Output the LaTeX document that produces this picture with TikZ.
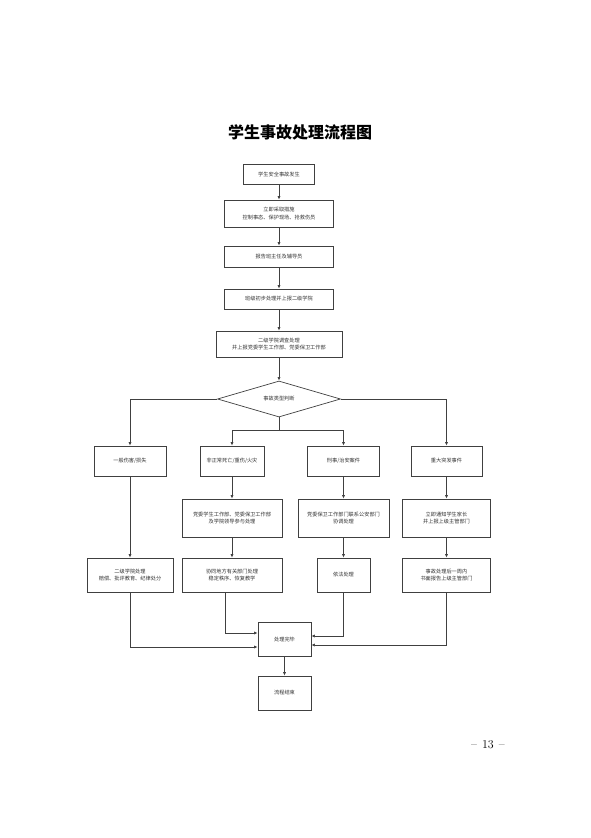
\documentclass[tikz,border=0pt]{standalone}
\usepackage{fontspec}
\newfontfamily\cjk{Noto Sans CJK SC}
\usetikzlibrary{shapes.geometric,arrows.meta}
\definecolor{linec}{HTML}{404040}
\definecolor{textc}{HTML}{333333}
\begin{document}
\begin{tikzpicture}[x=1pt,y=-1pt,
  box/.style={draw=linec, line width=0.7pt, fill=white, inner sep=1pt,
    font=\cjk\fontsize{5.2}{7.2}\selectfont, text=textc, align=center},
  arr/.style={draw=linec, line width=0.7pt, -{Latex[length=3.6pt,width=3.2pt]}},
  ln/.style={draw=linec, line width=0.7pt}]
\useasboundingbox (0,0) rectangle (590,838);
\fill[white] (0,0) rectangle (590,838);

\node[font=\cjk\bfseries\fontsize{16}{18}\selectfont, text=black] (title) at (300,132) {学生事故处理流程图};

\node[box, minimum width=71pt, minimum height=20pt] (b1) at (279,174) {学生安全事故发生};
\node[box, minimum width=109pt, minimum height=27pt] (b2) at (279,213.5) {立即采取措施\\控制事态、保护现场、抢救伤员};
\node[box, minimum width=109pt, minimum height=21pt] (b3) at (279,256.5) {报告班主任及辅导员};
\node[box, minimum width=109pt, minimum height=20pt] (b4) at (279,299) {班级初步处理并上报二级学院};
\node[box, minimum width=126pt, minimum height=26pt] (b5) at (279,344) {二级学院调查处理\\并上报党委学生工作部、党委保卫工作部};
\node[box, diamond, inner sep=0pt, minimum width=123pt, minimum height=30pt] (dia) at (279,399) {事故类型判断};

\node[box, minimum width=72pt, minimum height=30pt] (c1) at (130,461) {一般伤害/损失};
\node[box, minimum width=64pt, minimum height=30pt] (c2) at (232,461) {非正常死亡/重伤/火灾};
\node[box, minimum width=72pt, minimum height=30pt] (c3) at (343.5,461) {刑事/治安案件};
\node[box, minimum width=71pt, minimum height=30pt] (c4) at (446.5,461) {重大突发事件};

\node[box, minimum width=100pt, minimum height=38pt] (d2) at (232,518) {党委学生工作部、党委保卫工作部\\及学院领导参与处理};
\node[box, minimum width=91pt, minimum height=38pt] (d3) at (343.5,518) {党委保卫工作部门联系公安部门\\协调处理};
\node[box, minimum width=88pt, minimum height=38pt] (d4) at (446.5,518) {立即通知学生家长\\并上报上级主管部门};

\node[box, minimum width=86pt, minimum height=34pt] (e1) at (130,575) {二级学院处理\\赔偿、批评教育、纪律处分};
\node[box, minimum width=100pt, minimum height=34pt] (e2) at (232,575) {协同地方有关部门处理\\稳定秩序、恢复教学};
\node[box, minimum width=53pt, minimum height=34pt] (e3) at (343.5,575) {依法处理};
\node[box, minimum width=88pt, minimum height=34pt] (e4) at (446.5,575) {事故处理后一周内\\书面报告上级主管部门};

\node[box, minimum width=53pt, minimum height=34pt] (f1) at (284.5,639) {处理完毕};
\node[box, minimum width=53pt, minimum height=34pt] (f2) at (284.5,693) {流程结束};

\node[font=\fontsize{12}{14}\selectfont, text=black] (pg) at (488,745) {\textendash\hspace{5pt}13\hspace{5pt}\textendash};

\draw[arr] (b1) -- (b2);
\draw[arr] (b2) -- (b3);
\draw[arr] (b3) -- (b4);
\draw[arr] (b4) -- (b5);
\draw[arr] (b5) -- (dia);

\draw[arr] (dia.west) -| (c1.north);
\draw[arr] (dia.east) -| (c4.north);
\coordinate (j) at (279,430);
\draw[ln] (dia.south) -- (j);
\draw[arr] (j) -| (c2.north);
\draw[arr] (j) -| (c3.north);

\draw[arr] (c1) -- (e1);
\draw[arr] (c2) -- (d2);
\draw[arr] (d2) -- (e2);
\draw[arr] (c3) -- (d3);
\draw[arr] (d3) -- (e3);
\draw[arr] (c4) -- (d4);
\draw[arr] (d4) -- (e4);

\draw[arr] (e1.south) |- ([yshift=-8pt]f1.west);
\draw[arr] ([xshift=-7pt]e2.south) |- ([yshift=6pt]f1.west);
\draw[arr] (e3.south) |- ([yshift=3pt]f1.east);
\draw[arr] (e4.south) |- ([yshift=-6pt]f1.east);
\draw[arr] (f1) -- (f2);
\end{tikzpicture}
\end{document}
